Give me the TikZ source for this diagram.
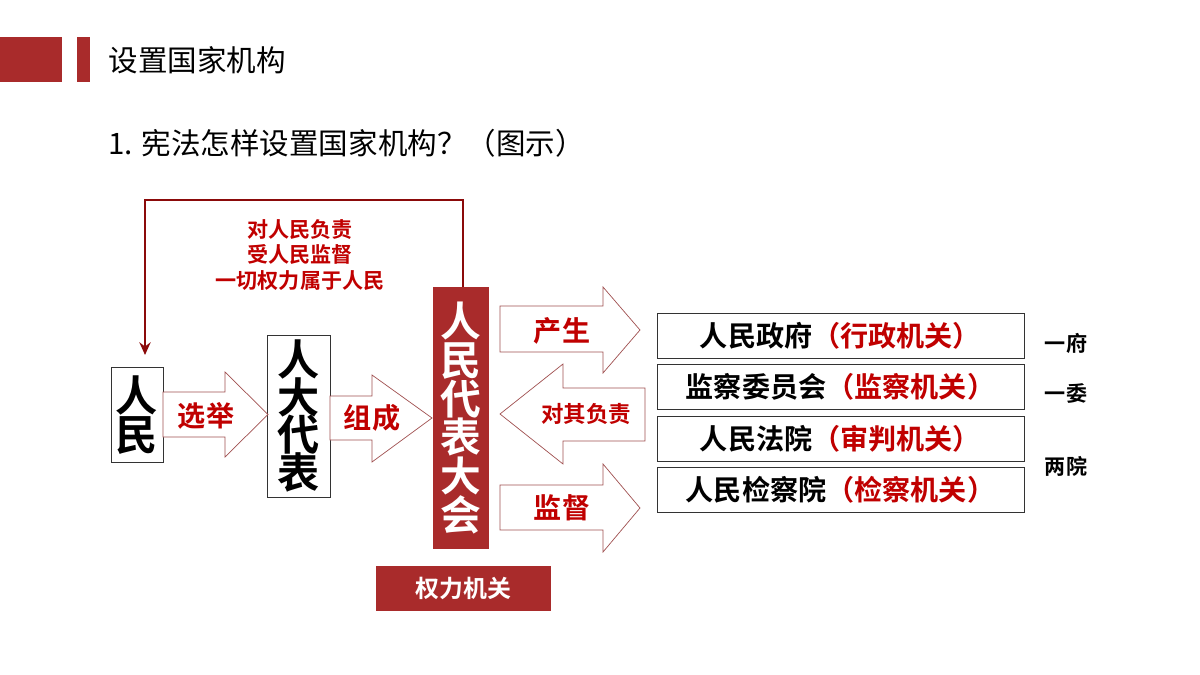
\documentclass[tikz,border=0pt]{standalone}
\usepackage{fontspec}
\setmainfont{Noto Sans CJK SC}
\newfontfamily\cjkb{Noto Sans CJK SC Bold}
\usetikzlibrary{positioning,arrows.meta}
\definecolor{hred}{HTML}{A92B2B}
\definecolor{tred}{HTML}{C00000}
\definecolor{dred}{HTML}{8B0A0A}
\definecolor{aline}{HTML}{A05050}
\newcommand{\fs}[1]{\fontsize{#1}{#1}\selectfont}
\tikzset{
  bx/.style={draw=black!80,line width=1pt,fill=white,inner sep=0pt},
  rb/.style={fill=hred,inner sep=0pt,text=white},
  barrow/.style={draw=aline,line width=1pt,fill=white},
  rlab/.style={text=tred,font=\cjkb\fs{40}},
}
\begin{document}
\begin{tikzpicture}[x=0.05cm,y=-0.05cm]
\useasboundingbox (0,0) rectangle (1200,675);
% header
\fill[hred] (0,37) rectangle (62,82);
\fill[hred] (77,37) rectangle (90,82);
\node[anchor=west,font=\fs{42}] (title) at (106,60) {设置国家机构};
\node[anchor=west,font=\fs{42}] (q) at (106,143) {1. 宪法怎样设置国家机构？（图示）};
% people
\node[bx,minimum width=52*0.05cm,minimum height=95*0.05cm,font=\cjkb\fs{60},align=center] (rm) at (137,415) {人\\[-4pt]民};
\node[bx,minimum width=63*0.05cm,minimum height=162*0.05cm,font=\cjkb\fs{60},align=center] (rd) at (298.5,416) {人\\[-6pt]大\\[-6pt]代\\[-6pt]表};
\node[rb,minimum width=56*0.05cm,minimum height=262*0.05cm,font=\cjkb\fs{58},align=center] (npc) at (461,418) {人\\[-3pt]民\\[-3pt]代\\[-3pt]表\\[-3pt]大\\[-3pt]会};
\node[rb,minimum width=175*0.05cm,minimum height=45*0.05cm,font=\cjkb\fs{34}] (qj) at (463.5,588.5) {权力机关};
% block arrows
\draw[barrow] (163,392) -- (225,392) -- (225,372) -- (268,414.5) -- (225,457) -- (225,437) -- (163,437) -- cycle;
\node[rlab] (xj) at (206,416) {选举};
\draw[barrow] (330,396) -- (372,396) -- (372,375) -- (432,418) -- (372,462) -- (372,440) -- (330,440) -- cycle;
\node[rlab] (zc) at (372,418) {组成};
\draw[barrow] (500,306) -- (603,306) -- (603,287) -- (640,330) -- (603,373) -- (603,352) -- (500,352) -- cycle;
\node[rlab] (cs) at (562,331) {产生};
\draw[barrow] (500,414) -- (563,364) -- (563,388) -- (645,388) -- (645,441) -- (563,441) -- (563,464) -- cycle;
\node[text=tred,font=\cjkb\fs{32}] (dq) at (586,414) {对其负责};
\draw[barrow] (500,485) -- (603,485) -- (603,464) -- (640,508) -- (603,552) -- (603,530) -- (500,530) -- cycle;
\node[rlab] (jd) at (562,508) {监督};
% right boxes
\foreach \n/\y/\a/\b in {zf/335.5/人民政府/（行政机关）,jc/387/监察委员会/（监察机关）,fy/438.5/人民法院/（审判机关）,jy/490/人民检察院/（检察机关）}{
  \node[bx,minimum width=367*0.05cm,minimum height=45*0.05cm,font=\cjkb\fs{40}] (\n) at (840.5,\y) {\a\textcolor{tred}{\b}};
}
\node[font=\cjkb\fs{30}] (yf) at (1066,343) {一府};
\node[font=\cjkb\fs{30}] (yw) at (1066,393) {一委};
\node[font=\cjkb\fs{30}] (ly) at (1066,466) {两院};
% feedback
\coordinate (fe) at (145,355);
\draw[dred,line width=4pt,-{Stealth[length=18pt,width=16pt]}] (npc.north -| 463,0) -- (463,200) -- (145,200) -- (fe);
\node[text=tred,font=\cjkb\fs{30},align=center] (fb) at (300,255) {对人民负责\\[6pt]受人民监督\\[6pt]一切权力属于人民};
\end{tikzpicture}
\end{document}
